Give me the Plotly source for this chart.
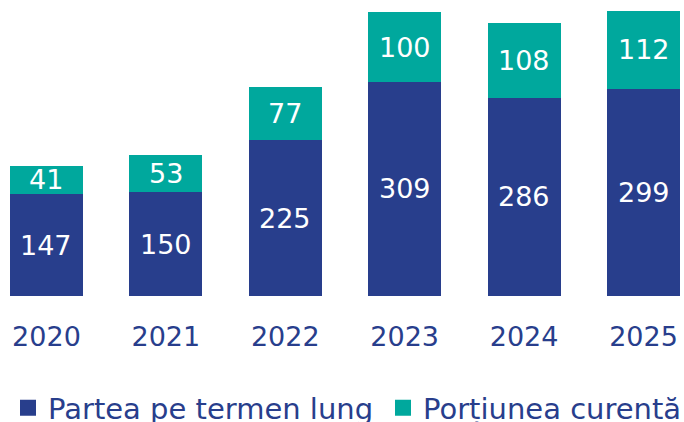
import plotly.graph_objects as go

years = ["2020", "2021", "2022", "2023", "2024", "2025"]
long_term = [147, 150, 225, 309, 286, 299]
current = [41, 53, 77, 100, 108, 112]
names = ["Partea pe termen lung", "Porțiunea curentă"]

NAVY = "#283E8C"
TEAL = "#00A89D"
FONT = "DejaVu Sans"

idx = list(range(len(years)))

fig = go.Figure()
fig.add_trace(go.Bar(x=idx, y=long_term, marker_color=NAVY, marker_line_width=0,
                     showlegend=False, width=0.612))
fig.add_trace(go.Bar(x=idx, y=current, marker_color=TEAL, marker_line_width=0,
                     showlegend=False, width=0.612))
# legend entries
fig.add_trace(go.Scatter(x=[None], y=[None], mode="markers", name=names[0], legend="legend",
                         marker=dict(symbol="square", size=17, color=NAVY)))
fig.add_trace(go.Scatter(x=[None], y=[None], mode="markers", name=names[1], legend="legend2",
                         marker=dict(symbol="square", size=17, color=TEAL)))

annotations = []
for i, a, b in zip(idx, long_term, current):
    annotations.append(dict(x=i, y=a / 2, xref="x", yref="y", text=str(a), showarrow=False,
                            font=dict(family=FONT, size=27, color="white")))
    annotations.append(dict(x=i, y=a + b / 2, xref="x", yref="y", text=str(b), showarrow=False,
                            font=dict(family=FONT, size=27, color="white")))

leg_common = dict(orientation="h", xanchor="left", y=-0.378, yanchor="middle",
                  font=dict(family=FONT, size=29, color=NAVY),
                  itemclick=False, itemdoubleclick=False, bgcolor="rgba(0,0,0,0)")

fig.update_layout(
    barmode="stack",
    width=684, height=422,
    margin=dict(l=0, r=0, t=0, b=126, autoexpand=False),
    paper_bgcolor="white", plot_bgcolor="white",
    font=dict(family=FONT, size=27, color=NAVY),
    annotations=annotations,
    xaxis=dict(range=[-0.389, 5.339], showgrid=False, zeroline=False, automargin=False,
               tickmode="array", tickvals=idx, ticktext=years,
               showline=False, ticks="outside", ticklen=17, tickcolor="rgba(0,0,0,0)",
               tickfont=dict(family=FONT, size=27, color=NAVY)),
    yaxis=dict(range=[0, 427], visible=False, automargin=False),
    legend=dict(x=8 / 684, **leg_common),
    legend2=dict(x=383 / 684, **leg_common),
    showlegend=True,
)

fig.write_html("out.html", config={"displayModeBar": False},
               post_script="document.body.style.margin='0';document.body.style.overflow='hidden';")
